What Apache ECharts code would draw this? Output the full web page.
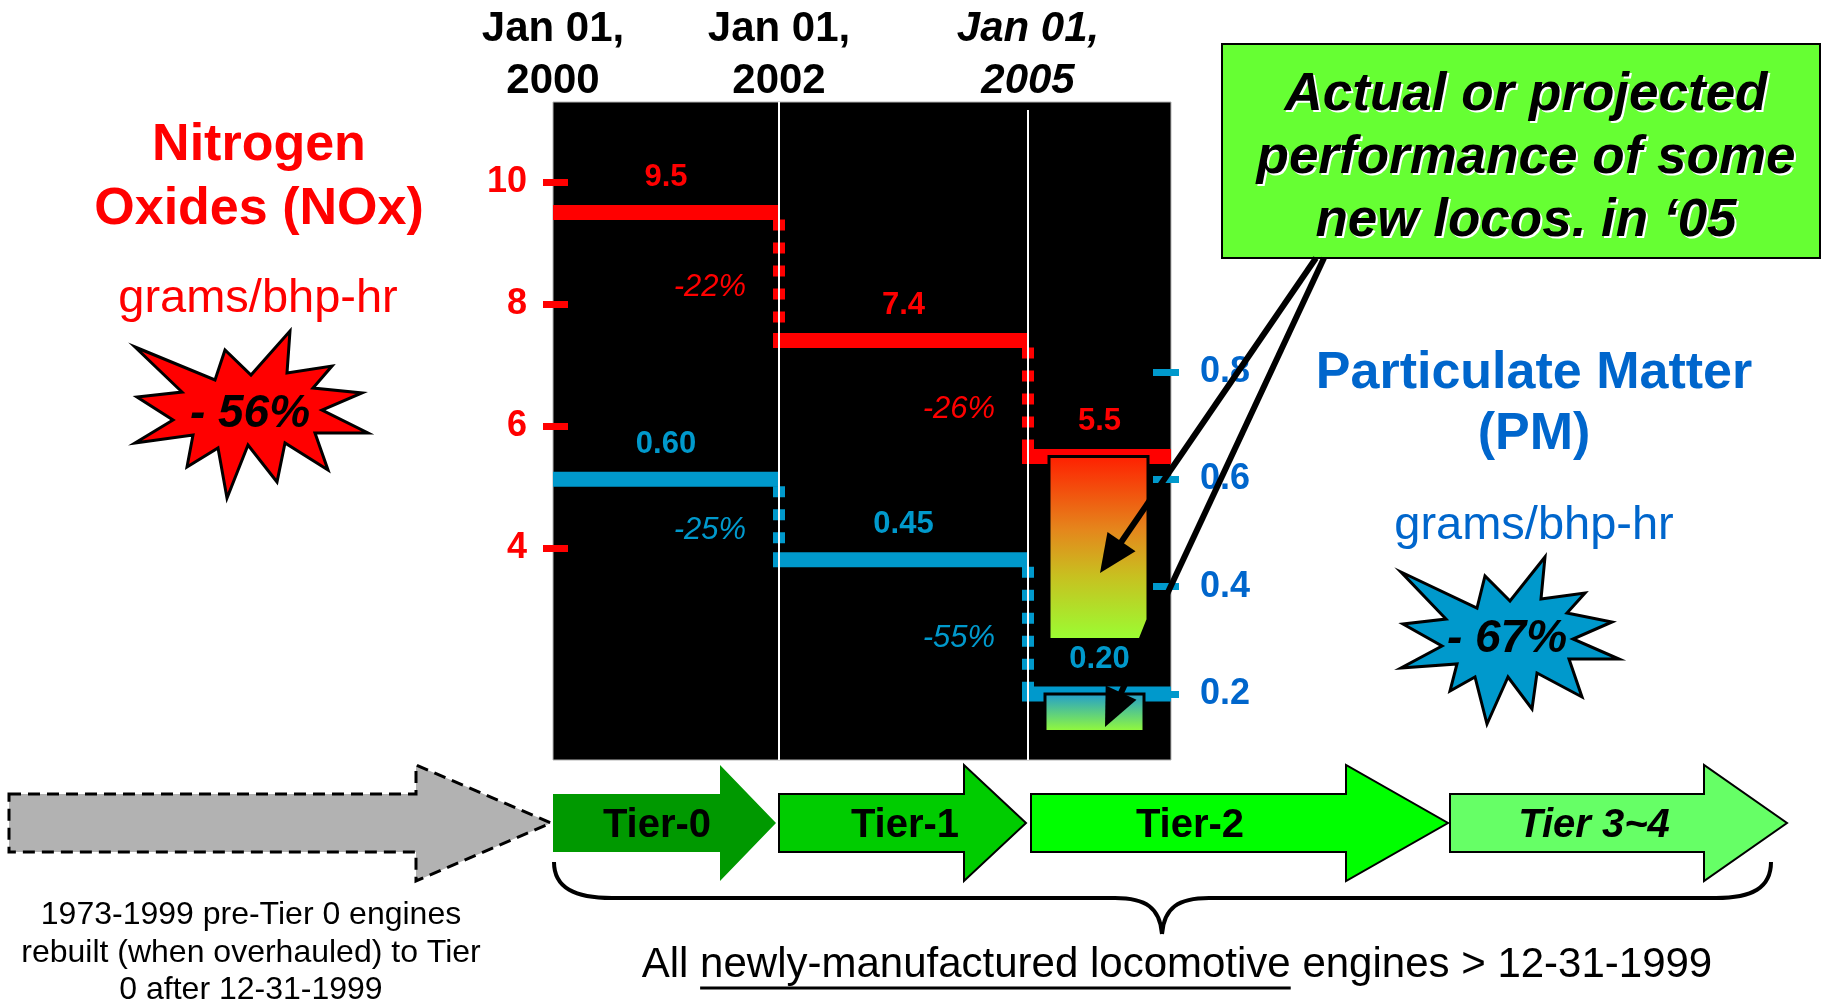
<!DOCTYPE html>
<html>
<head>
<meta charset="UTF-8">
<title>Locomotive NOx / PM standards</title>
<style>
  html, body { margin: 0; padding: 0; background: #fff; }
  #chart { width: 1822px; height: 1004px; }
</style>
<script src="https://cdn.jsdelivr.net/npm/echarts@6.0.0/dist/echarts.min.js"></script>
</head>
<body>
<div id="chart"></div>
<script>
// ---- data ----
var dateLabels = ['Jan 01,\n2000', 'Jan 01,\n2002', 'Jan 01,\n2005'];
var noxValues = [9.5, 7.4, 5.5];
var noxChange = ['-22%', '-26%'];
var pmValues = [0.60, 0.45, 0.20];
var pmChange = ['-25%', '-55%'];
var noxActual = [5.5, 2.5];    // range of new locos in '05 (NOx)
var pmActual = [0.20, 0.13];   // range of new locos in '05 (PM)
var tierNames = ['Tier-0', 'Tier-1', 'Tier-2', 'Tier 3~4'];
var noxTotal = '- 56%';
var pmTotal = '- 67%';

// ---- layout ----
var FONT = "'Liberation Sans', Arial, Helvetica, sans-serif";
var RED = '#ff0000', BLUE = '#0099cc', DARKBLUE = '#0066cc';
var eraWidths = [226, 249, 143];   // drawn widths of the three periods
var eraEdges = [0];
eraWidths.forEach(function (w, i) { eraEdges.push(eraEdges[i] + w); });
var xMax = eraEdges[eraEdges.length - 1];

var chart = echarts.init(document.getElementById('chart'));

function stepItem(values, changes, color, decimals) {
  return function (params, api) {
    var i = api.value(0), v = api.value(1);
    var p0 = api.coord([eraEdges[i], v]);
    var p1 = api.coord([eraEdges[i + 1], v]);
    var ext = i > 0 ? 6 : 0;
    var children = [
      { type: 'rect', shape: { x: p0[0] - ext, y: p0[1] - 7.5, width: p1[0] - p0[0] + ext, height: 15 },
        style: { fill: color } },
      { type: 'text', x: (p0[0] + p1[0]) / 2, y: p0[1] - 35,
        style: { text: v.toFixed(decimals), fill: color, font: 'bold 31px ' + FONT, align: 'center', verticalAlign: 'middle' } }
    ];
    if (i > 0) {
      var q = api.coord([eraEdges[i], values[i - 1]]);
      children.push({ type: 'line', shape: { x1: q[0], y1: q[1] + 7, x2: q[0], y2: p0[1] },
        style: { stroke: color, lineWidth: 12, lineDash: [11, 12] } });
      children.push({ type: 'text', x: q[0] - 33, y: (q[1] + p0[1]) / 2 + 11,
        style: { text: changes[i - 1], fill: color, font: 'italic 31px ' + FONT, align: 'right', verticalAlign: 'middle' } });
    }
    return { type: 'group', children: children };
  };
}

function boxItem(insetL, insetR, stops, chamfer) {
  return function (params, api) {
    var i = api.value(0);
    var a = api.coord([eraEdges[i], api.value(1)]);
    var b = api.coord([eraEdges[i + 1], api.value(2)]);
    var x0 = a[0] + insetL, x1 = b[0] - insetR, y0 = a[1], y1 = b[1];
    var pts = chamfer
      ? [[x0, y0], [x1, y0], [x1, y1 - 20], [x1 - 8, y1], [x0, y1]]
      : [[x0, y0], [x1, y0], [x1, y1], [x0, y1]];
    return { type: 'polygon', shape: { points: pts },
      style: { fill: new echarts.graphic.LinearGradient(0, 0, 0, 1, stops), stroke: '#000', lineWidth: 3 } };
  };
}

function arrow(x1, y1, x2, y2) {
  var dx = x2 - x1, dy = y2 - y1, L = Math.sqrt(dx * dx + dy * dy);
  var ux = dx / L, uy = dy / L, hl = 38, hw = 17;
  var bx = x2 - ux * hl, by = y2 - uy * hl;
  return [
    { type: 'line', z: 60, shape: { x1: x1, y1: y1, x2: bx + ux * 4, y2: by + uy * 4 }, style: { stroke: '#000', lineWidth: 6 } },
    { type: 'polygon', z: 60, shape: { points: [[x2, y2], [bx - uy * hw, by + ux * hw], [bx + uy * hw, by - ux * hw]] }, style: { fill: '#000' } }
  ];
}

function blockArrow(x0, xh, xt, fill, stroke, dash) {
  return { type: 'polygon', z: 10,
    shape: { points: [[x0, 794], [xh, 794], [xh, 765], [xt, 823], [xh, 881], [xh, 852], [x0, 852]] },
    style: { fill: fill, stroke: stroke || null, lineWidth: stroke ? (dash ? 3 : 2) : 0, lineDash: dash || null } };
}

function txt(x, y, text, font, fill, lh) {
  return { type: 'text', z: 20, x: x, y: y,
    style: { text: text, font: font, fill: fill, align: 'center', verticalAlign: 'middle', lineHeight: lh } };
}

var redStar = [[135,347],[215,380],[225,350],[251,375],[290,331],[287,373],[332,366],[313,388],[362,393],[322,410],
  [368,433],[315,433],[328,470],[285,443],[277,482],[248,445],[227,498],[218,448],[187,467],[193,435],[135,443],
  [173,420],[137,397],[182,392]];
var blueStar = [[1401,572],[1477,608],[1485,576],[1510,601],[1545,557],[1541,599],[1585,593],[1567,613],[1612,622],
  [1573,639],[1619,659],[1569,659],[1582,697],[1537,673],[1532,709],[1508,677],[1487,724],[1475,677],[1450,691],
  [1457,664],[1401,668],[1442,646],[1403,624],[1446,619]];

// underline of the bottom caption, measured with the same font
var ctx = document.createElement('canvas').getContext('2d');
ctx.font = '42px ' + FONT;
var capFull = 'All newly-manufactured locomotive engines > 12-31-1999';
var capStart = 1177 - ctx.measureText(capFull).width / 2;
var ulX0 = capStart + ctx.measureText('All ').width;
var ulX1 = ulX0 + ctx.measureText('newly-manufactured locomotive').width;

var calloutLines = ['Actual or projected', 'performance of some', 'new locos. in \u201805'];

var graphics = [
  // titles
  txt(259, 178, 'Nitrogen\nOxides (NOx)', 'bold 52px ' + FONT, RED, 64),
  txt(258, 299, 'grams/bhp-hr', '47px ' + FONT, RED),
  txt(1534, 404, 'Particulate Matter\n(PM)', 'bold 52px ' + FONT, DARKBLUE, 61),
  txt(1534, 526, 'grams/bhp-hr', '47px ' + FONT, DARKBLUE),
  // starbursts
  { type: 'polygon', z: 10, shape: { points: redStar }, style: { fill: RED, stroke: '#000', lineWidth: 3 } },
  txt(250, 414, noxTotal, 'italic bold 46px ' + FONT, '#000'),
  { type: 'polygon', z: 10, shape: { points: blueStar }, style: { fill: BLUE, stroke: '#000', lineWidth: 3 } },
  txt(1507, 639, pmTotal, 'italic bold 46px ' + FONT, '#000'),
  // callout
  { type: 'rect', z: 10, shape: { x: 1222, y: 44, width: 598, height: 214 }, style: { fill: '#66ff33', stroke: '#000', lineWidth: 2 } },
  txt(1528, 160, calloutLines.join('\n'), 'italic bold 53px ' + FONT, '#fff', 63),
  txt(1526, 158, calloutLines.join('\n'), 'italic bold 53px ' + FONT, '#000', 63),
  // timeline arrows
  blockArrow(9, 416, 551, '#b2b2b2', '#000', [12, 7]),
  blockArrow(553, 720, 776, '#009900'),
  blockArrow(779, 964, 1026, '#00cc00', '#000'),
  blockArrow(1031, 1346, 1448, '#00ff00', '#000'),
  blockArrow(1450, 1704, 1787, '#66ff66', '#000'),
  txt(657, 826, tierNames[0], 'bold 40px ' + FONT, '#000'),
  txt(905, 826, tierNames[1], 'bold 40px ' + FONT, '#000'),
  txt(1190, 826, tierNames[2], 'bold 40px ' + FONT, '#000'),
  txt(1594, 826, tierNames[3], 'italic bold 40px ' + FONT, '#000'),
  // brace
  { type: 'bezierCurve', z: 10, shape: { x1: 554, y1: 862, cpx1: 554, cpy1: 888, cpx2: 575, cpy2: 898, x2: 612, y2: 898 }, style: { stroke: '#000', lineWidth: 4, fill: null } },
  { type: 'line', z: 10, shape: { x1: 612, y1: 898, x2: 1115, y2: 898 }, style: { stroke: '#000', lineWidth: 4 } },
  { type: 'bezierCurve', z: 10, shape: { x1: 1115, y1: 898, cpx1: 1146, cpy1: 898, cpx2: 1160, cpy2: 908, x2: 1162, y2: 934 }, style: { stroke: '#000', lineWidth: 4, fill: null } },
  { type: 'bezierCurve', z: 10, shape: { x1: 1162, y1: 934, cpx1: 1164, cpy1: 908, cpx2: 1178, cpy2: 898, x2: 1209, y2: 898 }, style: { stroke: '#000', lineWidth: 4, fill: null } },
  { type: 'line', z: 10, shape: { x1: 1209, y1: 898, x2: 1716, y2: 898 }, style: { stroke: '#000', lineWidth: 4 } },
  { type: 'bezierCurve', z: 10, shape: { x1: 1716, y1: 898, cpx1: 1752, cpy1: 898, cpx2: 1771, cpy2: 888, x2: 1771, y2: 862 }, style: { stroke: '#000', lineWidth: 4, fill: null } },
  // captions
  txt(1177, 965, capFull, '42px ' + FONT, '#000'),
  { type: 'line', z: 20, shape: { x1: ulX0, y1: 988, x2: ulX1, y2: 988 }, style: { stroke: '#000', lineWidth: 3 } },
  txt(251, 953, '1973-1999 pre-Tier 0 engines\nrebuilt (when overhauled) to Tier\n0 after 12-31-1999', '32px ' + FONT, '#000', 37.5)
].concat(arrow(1316, 258, 1100, 573), arrow(1324, 258, 1105, 727));

var option = {
  animation: false,
  backgroundColor: '#fff',
  grid: [
    { left: 553, top: 182, width: xMax, height: 366 },   // NOx scale
    { left: 553, top: 372, width: xMax, height: 322 },   // PM scale
    { left: 553, top: 102, width: xMax, height: 658, show: true, backgroundColor: '#000', borderColor: '#b4b4b4', borderWidth: 1 }
  ],
  xAxis: [
    { gridIndex: 0, type: 'value', min: 0, max: xMax, show: false },
    { gridIndex: 1, type: 'value', min: 0, max: xMax, show: false },
    { gridIndex: 2, type: 'value', min: 0, max: xMax, position: 'top',
      axisLine: { show: false, onZero: false }, axisTick: { show: false }, splitLine: { show: false },
      axisLabel: {
        customValues: eraEdges.slice(0, 3),
        margin: -5,
        formatter: function (v) {
          var i = eraEdges.indexOf(v);
          var tag = i === 2 ? 'it' : 'b';
          return dateLabels[i].split('\n').map(function (l) { return '{' + tag + '|' + l + '}'; }).join('\n');
        },
        rich: {
          b: { fontFamily: FONT, fontSize: 42, fontWeight: 'bold', color: '#000', lineHeight: 52 },
          it: { fontFamily: FONT, fontSize: 42, fontWeight: 'bold', fontStyle: 'italic', color: '#000', lineHeight: 52 }
        }
      } }
  ],
  yAxis: [
    { gridIndex: 0, type: 'value', min: 4, max: 10, interval: 2, position: 'left', offset: -15,
      axisLine: { show: false, onZero: false }, splitLine: { show: false },
      axisTick: { show: true, length: 25, lineStyle: { color: RED, width: 7 } },
      axisLabel: { color: RED, fontFamily: FONT, fontSize: 36, fontWeight: 'bold', margin: 41 } },
    { gridIndex: 1, type: 'value', min: 0.2, max: 0.8, interval: 0.2, position: 'right', offset: -18,
      axisLine: { show: false, onZero: false }, splitLine: { show: false },
      axisTick: { show: true, length: 26, lineStyle: { color: BLUE, width: 7 } },
      axisLabel: { color: DARKBLUE, fontFamily: FONT, fontSize: 36, fontWeight: 'bold', margin: 47,
        formatter: function (v) { return v.toFixed(1); } } },
    { gridIndex: 2, type: 'value', min: 0, max: 1, show: false }
  ],
  series: [
    { type: 'custom', name: 'NOx', xAxisIndex: 0, yAxisIndex: 0, z: 3, clip: false,
      data: noxValues.map(function (v, i) { return [i, v]; }),
      renderItem: stepItem(noxValues, noxChange, RED, 1) },
    { type: 'custom', name: 'PM', xAxisIndex: 1, yAxisIndex: 1, z: 3, clip: false,
      data: pmValues.map(function (v, i) { return [i, v]; }),
      renderItem: stepItem(pmValues, pmChange, BLUE, 2) },
    { type: 'custom', name: 'NOx new locos', xAxisIndex: 0, yAxisIndex: 0, z: 4, clip: false,
      data: [[2, noxActual[0], noxActual[1]]],
      renderItem: boxItem(21, 23, [
        { offset: 0, color: '#ff1e00' }, { offset: 0.4, color: '#e5861c' },
        { offset: 0.65, color: '#c8c020' }, { offset: 1, color: '#99ff33' }], true) },
    { type: 'custom', name: 'PM new locos', xAxisIndex: 1, yAxisIndex: 1, z: 4, clip: false,
      data: [[2, pmActual[0], pmActual[1]]],
      renderItem: boxItem(17, 27, [{ offset: 0, color: '#1e9bd2' }, { offset: 1, color: '#99ff33' }], false) },
    { type: 'custom', name: 'era lines', xAxisIndex: 2, yAxisIndex: 2, z: 6, clip: false,
      data: [[1], [2]],
      renderItem: function (params, api) {
        var i = api.value(0);
        var top = api.coord([eraEdges[i], 1]), bot = api.coord([eraEdges[i], 0]);
        return { type: 'line', shape: { x1: top[0], y1: top[1] + (i === 2 ? 8 : 0), x2: bot[0], y2: bot[1] },
          style: { stroke: '#fff', lineWidth: 2 } };
      } }
  ],
  graphic: graphics
};
chart.setOption(option);
</script>
</body>
</html>
